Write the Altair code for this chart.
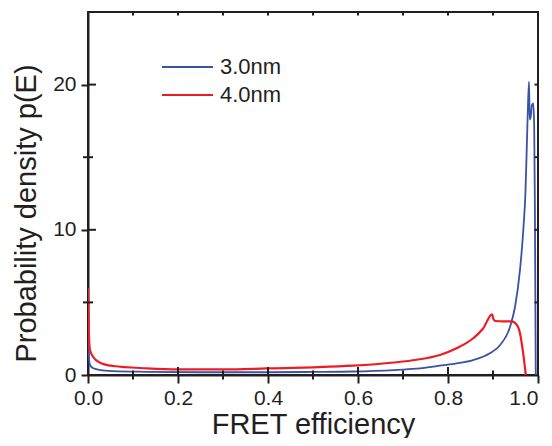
import altair as alt
import pandas as pd

# ---- data ----
series_names = ["3.0nm", "4.0nm"]

e_30 = [0.0, 0.002, 0.0045, 0.012, 0.027, 0.056, 0.13, 0.25, 0.4, 0.5, 0.59, 0.68, 0.73,
        0.782, 0.819, 0.856, 0.893, 0.916, 0.938, 0.949, 0.960, 0.968, 0.972, 0.974, 0.977,
        0.980, 0.9815, 0.984, 0.9865, 0.9895, 0.9915, 0.993, 0.994, 0.995]
p_30 = [2.4, 1.2, 0.69, 0.46, 0.34, 0.27, 0.22, 0.19, 0.19, 0.21, 0.24, 0.34, 0.44,
        0.64, 0.8, 1.03, 1.5, 2.07, 3.33, 4.7, 7.24, 10.3, 12.5, 14.5, 17.8,
        20.2, 17.6, 17.8, 18.6, 18.7, 17.2, 12.0, 6.0, 0.0]

e_40 = [0.0, 0.002, 0.0044, 0.012, 0.027, 0.056, 0.13, 0.204, 0.3, 0.397, 0.5, 0.589, 0.68,
        0.73, 0.782, 0.819, 0.856, 0.878, 0.898, 0.901, 0.905, 0.923, 0.941, 0.953, 0.96,
        0.967, 0.9726, 0.973]
p_40 = [6.0, 2.8, 1.72, 1.22, 0.85, 0.62, 0.46, 0.39, 0.39, 0.45, 0.53, 0.64, 0.86,
        1.05, 1.38, 1.84, 2.53, 3.2, 4.18, 3.85, 3.72, 3.7, 3.7, 3.45, 2.87,
        1.5, 0.1, 0.0]

x_major = [0.0, 0.2, 0.4, 0.6, 0.8, 1.0]
x_minor = [0.1, 0.3, 0.5, 0.7, 0.9]
x_top = [0.0, 0.1, 0.2, 0.3, 0.4, 0.5, 0.6, 0.7, 0.8, 0.9, 1.0]
y_major = [0, 10, 20]
y_minor = [5, 15]
y_right = [5, 10, 15, 20]

# ---- styling ----
BLUE = "#3953A4"
RED = "#ED1C24"
INK = "#231F20"
FONT = "Liberation Sans"
W, H = 450, 363

df = pd.concat([
    pd.DataFrame({"E": e_30, "P": p_30, "series": series_names[0]}),
    pd.DataFrame({"E": e_40, "P": p_40, "series": series_names[1]}),
])

color = alt.Color("series:N", scale=alt.Scale(domain=series_names, range=[BLUE, RED]), legend=None)
xscale = alt.Scale(domain=[0, 1], nice=False, zero=False)
yscale = alt.Scale(domain=[0, 25], nice=False)

x_axis = alt.Axis(values=x_major, format=".1f", tickSize=8, labelPadding=4,
                  labelFlush=False, labelOverlap=False, titleY=58,
                  titleBaseline="alphabetic",
                  labelAlign={"condition": {"test": "datum.value >= 1", "value": "right"},
                              "value": "center"})
y_axis = alt.Axis(values=y_major, tickSize=7, labelPadding=5, labelFlush=False,
                  titleX=-47, titleY=201, titleBaseline="bottom", titleAlign="center")


def xenc():
    return alt.X("E:Q", scale=xscale, title="FRET efficiency", axis=x_axis)


def yenc():
    return alt.Y("P:Q", scale=yscale, title="Probability density p(E)", axis=y_axis)


lines = alt.Chart(df).mark_line(clip=True, strokeJoin="round", interpolate="monotone").encode(
    x=xenc(),
    y=yenc(),
    color=color,
    strokeWidth=alt.StrokeWidth("series:N", scale=alt.Scale(domain=series_names, range=[1.8, 2.2]),
                                legend=None),
)


def xrule(vals, y0, y1):
    return alt.Chart(pd.DataFrame({"E": vals})).mark_rule(color=INK, strokeWidth=2).encode(
        x=xenc(), y=alt.value(y0), y2=alt.value(y1))


def yrule(vals, x0, x1):
    return alt.Chart(pd.DataFrame({"P": vals})).mark_rule(color=INK, strokeWidth=2).encode(
        y=yenc(), x=alt.value(x0), x2=alt.value(x1))


ticks = [
    xrule(x_major, H - 8, H),
    xrule(x_minor, H - 4.5, H + 4.5),
    xrule(x_top, 0, 3.5),
    yrule(y_major, 0, 8),
    yrule(y_minor, -5, 5),
    yrule(y_right, W - 3.5, W),
]

plot = alt.layer(lines, *ticks)

leg_df = pd.DataFrame({"series": series_names})
leg_y = alt.Y("series:N", scale=alt.Scale(type="point", domain=series_names, range=[55, 83], padding=0),
              axis=None)
leg_lines = alt.Chart(leg_df).mark_rule(strokeWidth=2).encode(
    x=alt.value(74), x2=alt.value(125), y=leg_y, color=color)
leg_text = alt.Chart(leg_df).mark_text(align="left", baseline="middle", fontSize=22, font=FONT,
                                      color=INK).encode(
    x=alt.value(132), y=leg_y, text="series:N")

chart = alt.layer(plot, leg_lines, leg_text).resolve_scale(y="independent").properties(
    width=W, height=H,
    autosize=alt.AutoSizeParams(type="none"),
    padding={"left": 80, "top": 4, "right": 6, "bottom": 63},
).configure_view(stroke=INK, strokeWidth=2).configure_axis(
    domainColor=INK, domainWidth=2, tickColor=INK, tickWidth=2, grid=False,
    labelFont=FONT, labelFontSize=21, labelColor=INK,
    titleFont=FONT, titleFontSize=29, titleFontWeight="normal", titleColor=INK,
)

chart.save("out.html", embed_options={"renderer": "svg", "actions": False})
